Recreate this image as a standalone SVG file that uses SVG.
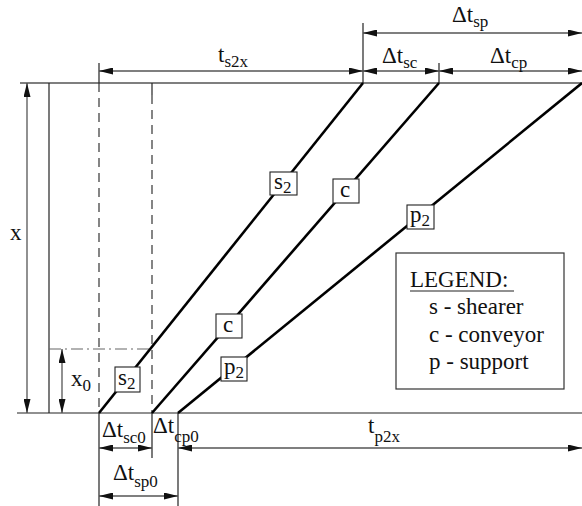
<svg xmlns="http://www.w3.org/2000/svg" width="582" height="506" viewBox="0 0 582 506">
<style>
.bg{fill:#fff}
.ref{stroke:#555;stroke-width:1.6;fill:none}
.thin{stroke:#222;stroke-width:1.2;fill:none}
.dim{stroke:#555;stroke-width:1.3;fill:none;marker-start:url(#arr);marker-end:url(#arr)}
.dash{stroke:#222;stroke-width:1.1;fill:none;stroke-dasharray:9 6}
.dashdot{stroke:#666;stroke-width:1.2;fill:none;stroke-dasharray:12 4 2 4}
.diag{stroke:#000;stroke-width:2.6;fill:none}
.box{fill:#fff;stroke:#222;stroke-width:1.1}
text{font-family:"Liberation Serif","Times New Roman",serif;fill:#111;font-size:23px}
.sub{font-size:17px}
</style>
<defs>
<marker id="arr" viewBox="0 0 16 8" refX="16" refY="4" markerWidth="16" markerHeight="7" markerUnits="userSpaceOnUse" orient="auto-start-reverse">
<path d="M0,0 L16,4 L0,8 Z" fill="#111"/>
</marker>
</defs>
<rect class="bg" x="0" y="0" width="582" height="506"/>
<g id="connectors">
<line class="ref" x1="20" y1="83" x2="582" y2="83"/>
<line class="thin" x1="17" y1="413" x2="582" y2="413"/>
<line class="thin" x1="49" y1="83" x2="49" y2="413"/>
<line class="dim" x1="27" y1="83" x2="27" y2="413"/>
<line class="dim" x1="62" y1="349" x2="62" y2="413"/>
<line class="dashdot" x1="49" y1="349" x2="152" y2="349"/>
<line class="dash" x1="99" y1="83" x2="99" y2="413"/>
<line class="dash" x1="152" y1="95" x2="152" y2="413"/>
<line class="thin" x1="152" y1="83" x2="152" y2="95"/>
<line class="thin" x1="99" y1="63" x2="99" y2="83"/>
<line class="thin" x1="363" y1="23" x2="363" y2="83"/>
<line class="thin" x1="439" y1="63" x2="439" y2="83"/>
<line class="thin" x1="99" y1="413" x2="99" y2="506"/>
<line class="thin" x1="152" y1="413" x2="152" y2="458"/>
<line class="thin" x1="178" y1="413" x2="178" y2="506"/>
<line class="diag" x1="99" y1="413" x2="363" y2="83"/>
<line class="diag" x1="152" y1="413" x2="439" y2="83"/>
<line class="diag" x1="178" y1="413" x2="582" y2="83"/>
<line class="dim" x1="99" y1="71" x2="363" y2="71"/>
<line class="dim" x1="363" y1="71" x2="439" y2="71"/>
<line class="dim" x1="439" y1="71" x2="582" y2="71"/>
<line class="dim" x1="363" y1="33" x2="582" y2="33"/>
<line class="dim" x1="99" y1="448" x2="152" y2="448"/>
<line class="dim" x1="178" y1="448" x2="582" y2="448"/>
<line class="dim" x1="99" y1="496" x2="178" y2="496"/>
</g>
<g id="labels">
<text x="218" y="62">t<tspan class="sub" dy="5">s2x</tspan></text>
<text x="452" y="22">Δt<tspan class="sub" dy="5">sp</tspan></text>
<text x="382" y="63">Δt<tspan class="sub" dy="5">sc</tspan></text>
<text x="490" y="63">Δt<tspan class="sub" dy="5">cp</tspan></text>
<text x="102" y="437">Δt<tspan class="sub" dy="6">sc0</tspan></text>
<text x="153" y="433">Δt<tspan class="sub" dy="9">cp0</tspan></text>
<text x="113" y="480">Δt<tspan class="sub" dy="7">sp0</tspan></text>
<text x="368" y="433">t<tspan class="sub" dy="9">p2x</tspan></text>
<text x="10" y="240">x</text>
<text x="71" y="386">x<tspan class="sub" dy="5">0</tspan></text>
</g>
<g id="node-s2-upper">
<rect class="box" x="270" y="172" width="27" height="23"/>
<text x="274" y="189">s<tspan class="sub" dy="4">2</tspan></text>
</g>
<g id="node-c-upper">
<rect class="box" x="333" y="179" width="26" height="24"/>
<text x="340" y="197">c</text>
</g>
<g id="node-p2-upper">
<rect class="box" x="407" y="205" width="27" height="24"/>
<text x="410" y="222">p<tspan class="sub" dy="4">2</tspan></text>
</g>
<g id="node-s2-lower">
<rect class="box" x="115" y="367" width="25" height="25"/>
<text x="118" y="385">s<tspan class="sub" dy="4">2</tspan></text>
</g>
<g id="node-c-lower">
<rect class="box" x="216" y="314" width="26" height="24"/>
<text x="223" y="332">c</text>
</g>
<g id="node-p2-lower">
<rect class="box" x="221" y="357" width="26" height="24"/>
<text x="224" y="374">p<tspan class="sub" dy="4">2</tspan></text>
</g>
<g id="legend">
<rect x="396" y="253" width="168" height="136" fill="#fff" stroke="#333" stroke-width="1.2"/>
<text x="410" y="287">LEGEND:</text>
<line x1="410" y1="291" x2="514" y2="291" stroke="#222" stroke-width="1.2"/>
<text x="429" y="314">s - shearer</text>
<text x="429" y="342">c - conveyor</text>
<text x="429" y="369">p - support</text>
</g>
</svg>
